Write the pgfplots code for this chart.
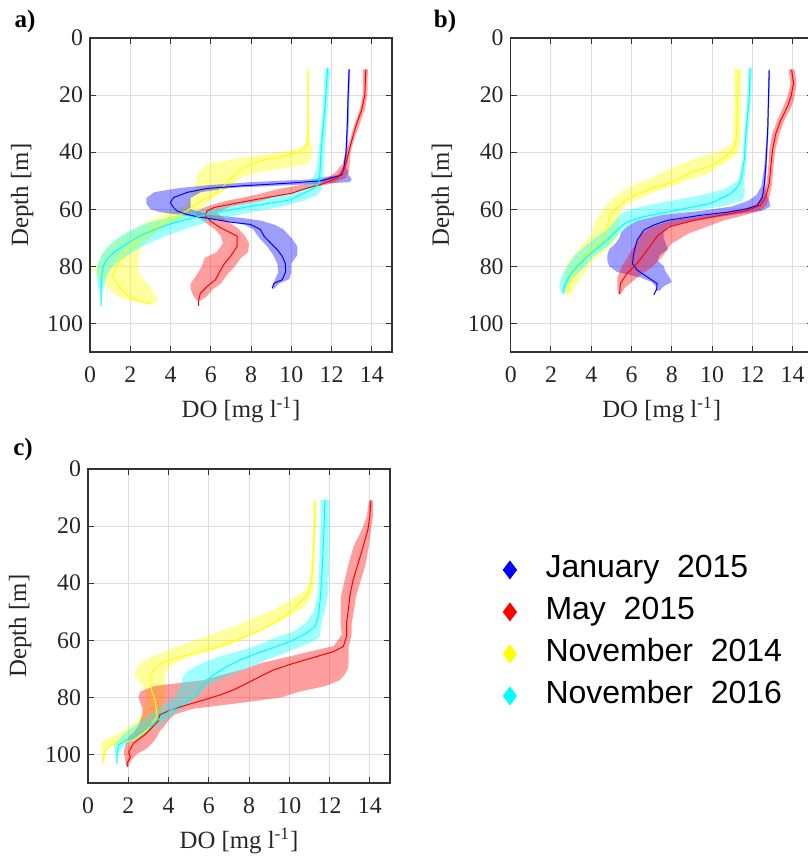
\documentclass[border=0pt]{standalone}
\usepackage{fontspec}
\setmainfont{Liberation Serif}
\newfontfamily\legfont{Liberation Sans}
\usepackage{pgfplots}
\pgfplotsset{compat=1.18}
\usepackage{pgfplotstable}
\usepgfplotslibrary{fillbetween}

\definecolor{cJan}{rgb}{0,0,1}
\definecolor{cMay}{rgb}{1,0,0}
\definecolor{cNov}{rgb}{1,1,0}
\definecolor{cNsx}{rgb}{0,1,1}

% ---- panel a: bands (depth, lower, upper) ----
\pgfplotstableread{
d lo hi
11 10.78 10.88
20 10.78 10.88
30 10.77 10.90
36 10.75 10.95
38.5 10.5 11.05
40.4 9.1 11.05
42 7.5 11.0
44 5.9 10.8
45 5.7 10.2
46.2 5.5 9.1
47.5 5.35 8.1
49.2 5.3 7.5
51.8 5.23 7.0
55.3 5.0 6.3
58.8 4.65 5.65
60.6 4.0 5.35
61.8 3.6 5.0
64.7 2.8 4.15
68.2 1.9 3.3
71.8 1.1 2.7
74 0.8 2.5
77.6 0.5 2.4
81.2 0.2 2.4
83.5 0.33 2.5
85.5 0.6 2.8
87 0.83 3.0
89 1.1 3.1
90.6 1.4 3.3
92.3 2.2 3.35
93.3 2.9 3.1
}\aNov
\pgfplotstableread{
d lo hi
11 12.82 12.92
30 12.75 12.85
40 12.68 12.78
45 12.6 12.72
48 12.3 12.85
49.5 11.0 13.0
50.5 8.0 12.9
51.5 6.0 10.0
52.5 4.5 7.0
54 3.2 5.5
56 2.8 5.0
58 2.8 5.0
60 3.0 5.0
61 3.5 5.5
62 4.5 6.0
63 5.5 7.5
64 6.8 8.5
65.5 7.7 9.2
67 8.1 9.6
70 8.4 10.0
73 8.8 10.3
76 9.1 10.3
79 9.3 10.0
82 9.35 10.0
84.5 9.2 9.9
86 9.1 9.4
88 9.05 9.1
}\aJan
\pgfplotstableread{
d lo hi
11 13.55 13.8
20 13.55 13.78
25 13.4 13.65
31 13.1 13.35
36 12.9 13.1
40 12.7 12.95
44 12.55 12.9
47 12.2 12.85
49 11.8 12.7
51 10.8 12.0
53 9.3 10.6
55 8.2 9.5
57 6.8 8.5
59 5.8 7.0
61 5.2 6.3
63 5.4 6.6
65 5.8 7.0
67 6.2 7.4
69.4 6.5 7.7
72 6.6 7.9
75 6.3 7.85
77 5.7 7.5
80 5.55 7.2
83 5.3 6.8
86 5.0 6.5
88 5.0 6.1
90.5 5.15 5.8
92 5.3 5.5
}\aMay
\pgfplotstableread{
d lo hi
10.6 11.65 11.95
20 11.6 11.85
30 11.5 11.75
40 11.35 11.65
46 11.25 11.6
50 11.0 11.6
53 10.5 11.5
55 9.5 11.3
57 8.3 10.6
59 6.8 9.6
61 5.0 8.0
63 3.8 6.7
65 2.8 5.6
67 2.1 4.7
69 1.6 3.9
71 1.2 3.2
73 0.9 2.6
75 0.65 2.1
77 0.5 1.7
79 0.4 1.3
81 0.35 1.0
84 0.35 0.8
87 0.4 0.7
90 0.5 0.6
93.8 0.55 0.56
}\aNsx

% ---- panel b ----
\pgfplotstableread{
d lo hi
11 11.1 11.45
20 11.1 11.45
30 11.05 11.42
37 11.0 11.4
40 10.2 11.3
42 9.3 11.05
44 8.5 10.6
46 7.8 10.1
48 7.3 9.7
50 6.6 8.7
52 5.9 8.0
54 5.5 7.1
56 5.1 6.5
58 4.8 5.8
60 4.6 5.5
63 4.3 5.4
66 4.1 5.35
69 4.0 5.35
72 3.6 5.1
75 3.3 4.6
78 2.9 4.1
81 2.7 3.8
84 2.6 3.5
87 2.65 3.2
89.8 2.75 3.0
}\bNov
\pgfplotstableread{
d lo hi
11 12.8 12.88
30 12.75 12.82
45 12.6 12.72
52 12.45 12.65
55 12.2 12.7
57 11.8 12.85
59 11.0 12.9
60.5 9.5 12.5
62 7.5 11.0
64 6.3 9.0
66 5.8 7.8
68 5.5 7.6
70 5.4 7.6
72 5.2 7.7
74 4.9 7.8
76 4.8 7.4
78 4.8 7.3
80 4.9 7.6
82 5.3 7.7
84 6.5 7.9
85.5 7.0 8.0
87 7.2 7.6
88.5 7.2 7.4
}\bJan
\pgfplotstableread{
d lo hi
11 13.8 14.1
16 13.9 14.2
20.5 13.75 14.1
24 13.55 13.95
28.7 13.25 13.6
33.4 13.0 13.35
39 12.85 13.15
45 12.8 13.05
51 12.7 12.98
55.7 12.5 12.85
58.6 12.15 12.7
60.4 11.3 12.4
62.1 9.8 11.6
63.9 8.0 10.6
66.2 7.0 9.7
68.6 6.5 8.8
72 6.2 8.0
76.8 5.8 7.5
80.3 5.5 7.0
83.8 5.3 6.3
87.3 5.3 5.7
89.7 5.35 5.45
}\bMay
\pgfplotstableread{
d lo hi
10.6 11.8 12.0
20 11.75 11.95
33 11.6 11.8
43 11.5 11.7
50 11.3 11.6
53 10.6 11.62
55 9.5 11.62
57 8.0 11.5
59 6.5 10.5
61 5.6 8.6
63 5.3 6.8
66 4.95 5.8
68 4.6 5.45
70 4.2 5.2
73 3.7 4.8
76 3.2 4.2
80 2.8 3.7
84 2.5 3.1
87 2.4 2.8
89.5 2.54 2.71
}\bNsx

% ---- panel c ----
\pgfplotstableread{
d lo hi
11 11.2 11.35
20 11.18 11.32
30 11.12 11.28
40 11.0 11.25
43 10.7 11.15
46 10.0 11.0
48 9.6 10.8
50 9.0 10.4
52 8.3 9.9
54 7.7 9.4
56 6.9 8.8
58 6.1 8.2
60 5.3 7.6
62 4.5 6.9
64 3.8 6.0
66 3.1 5.0
68 2.6 4.3
70 2.4 4.0
72 2.3 3.85
74 2.5 3.8
77 2.8 3.85
80 2.9 3.8
83 2.8 3.7
86 2.7 3.6
89 2.3 3.4
92 1.7 2.9
94 1.1 2.3
96 0.6 1.4
98 0.7 0.95
101 0.7 0.85
103.2 0.68 0.7
}\cNov
\pgfplotstableread{
d lo hi
11 13.95 14.15
16.6 13.85 14.15
21.3 13.6 14.05
27 13.2 13.95
33 12.95 13.8
39 12.75 13.55
45 12.55 13.3
50 12.55 13.2
54 12.55 13.1
58 12.6 13.1
62 12.2 12.95
64 11.0 12.95
66 9.8 12.95
68 8.6 12.95
70 7.8 12.9
72 6.7 12.75
74 5.7 12.5
76 3.3 11.8
78 2.6 10.5
80 2.5 9.6
82 2.6 7.5
84 2.7 5.2
86 2.7 4.3
88 2.6 4.0
90 2.5 3.8
92 2.3 3.55
94 2.0 3.4
96 1.9 3.2
98 1.8 2.9
100 1.8 2.4
102 1.85 2.15
104.3 1.95 2.0
}\cMay
\pgfplotstableread{
d lo hi
10.8 11.55 12.0
20 11.55 12.0
30 11.5 11.98
40 11.45 11.95
45 11.4 11.9
50 11.2 11.75
54 10.8 11.6
57 10.2 11.55
59 9.3 11.5
61 8.7 11.0
63 7.9 10.3
65 6.9 9.6
67 6.0 8.8
69 5.4 8.2
71 4.9 7.5
73 4.7 6.8
76 4.6 5.9
79 4.4 5.5
82 3.9 5.0
85 3.3 4.4
88 2.7 3.9
91 2.1 3.3
94 1.6 2.6
96.5 1.3 1.9
99 1.35 1.55
103.2 1.43 1.45
}\cNsx

\newcommand{\band}[3]{%
  \addplot[draw=none, forget plot, name path=#3lo] table[x=lo, y=d] {#1};
  \addplot[draw=none, forget plot, name path=#3hi] table[x=hi, y=d] {#1};
  \addplot[fill=#2, fill opacity=0.38, draw=none, forget plot] fill between[of=#3lo and #3hi];
}

\pgfplotsset{
  panel/.style={
    scale only axis, width=151pt, height=157pt,
    xmin=0, xmax=15, ymin=0, ymax=110, y dir=reverse,
    xtick={0,2,...,14}, ytick={0,20,...,100},
    grid=major, major grid style={black!13, line width=0.5pt},
    axis line style={black!80, line width=0.6pt},
    tick style={black!80, line width=0.5pt},
    tick align=inside, major tick length=3pt,
    /pgf/number format/assume math mode=true,
    tick label style={font=\fontsize{11.9}{14}\selectfont, text=black!85},
    xticklabel style={yshift=-4pt},
    label style={font=\fontsize{12.4}{15}\selectfont, text=black!85},
    xlabel={DO [mg l\textsuperscript{-1}]},
    ylabel={Depth [m]},
  },
  ln/.style={#1, line width=0.5pt, forget plot},
}

\begin{document}
\begin{tikzpicture}
\node[font=\bfseries\fontsize{12.5}{15}\selectfont] at (12.5pt,-10.5pt) {a)};
\node[font=\bfseries\fontsize{12.5}{15}\selectfont] at (222.5pt,-10.75pt) {b)};
\node[font=\bfseries\fontsize{12.5}{15}\selectfont] at (11.5pt,-224.5pt) {c)};

% ================= a =================
\begin{axis}[panel, at={(45pt,-19pt)}, anchor=north west]
\band{\aNov}{cNov}{an}
\addplot[ln=cNov] coordinates {(10.83,11) (10.83,20) (10.83,30) (10.8,37) (10.6,39) (10.2,40.4) (9.47,41.6) (8.6,42.8) (7.8,44.7) (7.14,48.2) (6.81,50.6) (6.48,52.9) (6.15,54.7) (5.65,56.5) (5.15,58.8) (4.82,60.6) (4.32,62.4) (3.65,64.7) (2.99,67.1) (2.33,70.6) (1.83,74.1) (1.5,77.6) (1.25,81.2) (1.08,83.5) (1.33,85.9) (1.58,88.2) (1.83,90) (2.33,91.8) (2.99,93.2)};
\band{\aJan}{cJan}{aj}
\addplot[ln=cJan] coordinates {(12.87,11) (12.82,20) (12.78,30) (12.72,40) (12.62,45) (12.5,48) (11.5,50) (9.97,50.8) (7.5,51.8) (5.81,52.7) (4.82,54.1) (4.15,55.9) (3.99,57.6) (4.15,59.4) (4.32,60.6) (4.82,61.8) (5.32,62.6) (6.15,63.5) (6.98,64.5) (7.97,65.3) (8.47,67.1) (8.64,69.4) (8.97,71.8) (9.30,74.1) (9.55,76.5) (9.7,79) (9.72,81.8) (9.55,84.7) (9.14,85.9) (9.05,87.6)};
\band{\aMay}{cMay}{am}
\addplot[ln=cMay] coordinates {(13.7,11) (13.65,20) (13.5,25) (13.2,31) (13.0,36) (12.85,40) (12.72,44) (12.55,47) (12.3,49) (11.6,51) (10.6,53) (10.0,54.4) (8.3,56.5) (7.0,58.2) (6.15,59.4) (5.81,60.6) (5.73,62.4) (5.98,64.1) (6.48,66.5) (6.98,68.2) (7.31,69.4) (7.31,72.9) (6.98,76.5) (6.64,79.4) (6.40,82.4) (6.23,84.7) (5.81,87.1) (5.48,89.4) (5.40,91.8) (5.40,93.8)};
\band{\aNsx}{cNsx}{ac}
\addplot[ln=cNsx] coordinates {(11.8,10.6) (11.7,21.7) (11.55,33.4) (11.46,41.6) (11.42,47.4) (11.37,51) (11.13,52.7) (10.4,55) (9.97,56.7) (8.3,58.6) (6.64,60.6) (5.48,62.4) (4.49,64.1) (3.65,65.9) (2.82,68.2) (2.16,70.6) (1.66,72.9) (1.16,75.3) (0.83,77.6) (0.66,80) (0.58,83.5) (0.55,88.2) (0.55,93.8)};
\end{axis}

% ================= b =================
\begin{axis}[panel, at={(255.35pt,-19pt)}, anchor=north west]
\band{\bNov}{cNov}{bn}
\addplot[ln=cNov] coordinates {(11.3,11) (11.28,20) (11.23,33) (11.15,38) (10.9,40) (10.43,42.8) (9.9,44.9) (9.0,47) (7.94,50.7) (7.2,52.2) (6.28,54.8) (5.8,56.5) (5.45,58.3) (4.95,61.8) (4.78,66.5) (4.62,70) (4.12,73.5) (3.62,77) (3.29,80.5) (3.04,84.6) (2.87,88) (2.82,89.8)};
\band{\bJan}{cJan}{bj}
\addplot[ln=cJan] coordinates {(12.84,11.4) (12.76,33.4) (12.67,45) (12.6,51) (12.5,55.7) (12.26,58.6) (11.76,59.8) (10.76,61) (9.43,62.1) (7.77,63.9) (7.11,65.5) (6.61,67.3) (6.28,70.8) (6.11,75.5) (6.05,79) (6.28,81.3) (6.78,83.7) (7.27,86) (7.25,88) (7.11,90)};
\band{\bMay}{cMay}{bm}
\addplot[ln=cMay] coordinates {(13.95,11.1) (14.05,15.8) (13.92,20.5) (13.75,24) (13.42,28.7) (13.17,33.4) (13.0,39.3) (12.92,45.1) (12.84,51) (12.67,55.7) (12.4,58.6) (11.76,60.4) (10.43,62.1) (9.1,63.9) (7.9,66.1) (7.3,69.2) (6.78,74.3) (6.28,79) (5.78,82.4) (5.45,86) (5.41,89.7)};
\band{\bNsx}{cNsx}{bc}
\addplot[ln=cNsx] coordinates {(11.9,10.6) (11.84,21.7) (11.68,33.4) (11.6,42.8) (11.43,49.8) (11.26,52.2) (10.93,54.5) (9.93,57.9) (8.27,60.3) (6.61,62.6) (5.78,64.4) (5.28,67.3) (4.78,70.8) (4.28,73.7) (3.79,76.6) (3.29,80.1) (2.96,83.0) (2.71,86.0) (2.59,89.5)};
\end{axis}

% ================= c =================
\begin{axis}[panel, at={(44pt,-234.5pt)}, anchor=north west,
  legend style={at={(1.354,0.478)}, anchor=west, draw=none, fill=none,
    font=\legfont\fontsize{16}{18}\selectfont,
    nodes={inner sep=1pt, text height=11pt, text depth=3.5pt},
    row sep=4.5pt, column sep=13.5pt},
  legend cell align=left]
\addlegendimage{only marks, mark=diamond*, mark size=4.4pt, color=cJan}
\addlegendentry{January~~2015}
\addlegendimage{only marks, mark=diamond*, mark size=4.4pt, color=cMay}
\addlegendentry{May~~2015}
\addlegendimage{only marks, mark=diamond*, mark size=4.4pt, color=cNov}
\addlegendentry{November~~2014}
\addlegendimage{only marks, mark=diamond*, mark size=4.4pt, color=cNsx}
\addlegendentry{November~~2016}
\band{\cNov}{cNov}{cn}
\addplot[ln=cNov] coordinates {(11.27,11) (11.24,21.3) (11.16,33) (11.1,40) (10.94,43.5) (10.5,47) (10.0,50.5) (9.2,54) (8.62,56.3) (8.2,57.5) (7.46,59.8) (6.9,61) (6.3,62.7) (4.98,65) (3.81,67.4) (3.32,69.7) (3.07,72.6) (3.15,77.3) (3.32,80.8) (3.4,84.3) (3.42,86.8) (2.93,91.5) (2.26,95) (1.1,96.7) (0.86,98.5) (0.78,100.8) (0.69,103.2)};
\band{\cMay}{cMay}{cm}
\addplot[ln=cMay] coordinates {(14.05,11) (14.0,16.6) (13.9,21.3) (13.67,27.1) (13.42,33) (13.17,38.8) (13.0,44.7) (12.93,49.4) (12.84,54) (12.84,58.7) (12.68,62.2) (12.18,64) (11.36,65.7) (10.2,68.1) (9.2,70.4) (8.55,72.7) (7.88,75.1) (7.22,77.4) (6.5,79.3) (5.8,80.8) (4.98,82.5) (4.15,84.3) (3.57,86.1) (3.48,88.4) (3.15,90.8) (2.82,93.1) (2.26,96.1) (2.02,99.1) (2.1,101) (1.93,103.2) (1.98,104.3)};
\band{\cNsx}{cNsx}{cc}
\addplot[ln=cNsx] coordinates {(11.77,10.8) (11.72,21) (11.65,33) (11.55,44.7) (11.44,51.7) (11.27,55.2) (10.86,57.5) (10.2,59.9) (9.37,62.2) (8.38,64.6) (7.55,66.9) (6.89,69.2) (6.14,72.6) (5.64,76.1) (5.31,79.6) (4.81,81.9) (4.15,84.3) (3.48,87.8) (2.8,91.3) (2.4,93.6) (1.9,95) (1.52,96.7) (1.44,99.6) (1.44,103.2)};
\end{axis}
\pgfresetboundingbox
\useasboundingbox (0,0) rectangle (404pt,-429.5pt);
\end{tikzpicture}
\end{document}
